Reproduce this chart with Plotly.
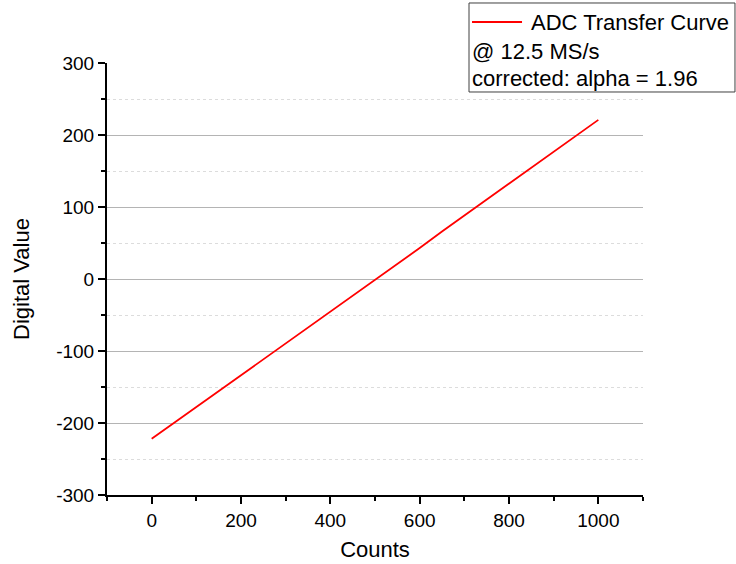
import plotly.graph_objects as go

# Data (approx.)
counts = [0, 50, 100, 150, 200, 250, 300, 350, 400, 450, 500,
          550, 600, 650, 700, 750, 800, 850, 900, 950, 1000]
digital = [-222, -200, -178, -156, -133, -111, -89, -67, -45, -23, -1,
           21, 43, 66, 88, 110, 132, 154, 176, 199, 221]

x_ticks = [0, 200, 400, 600, 800, 1000]
y_ticks = [-300, -200, -100, 0, 100, 200, 300]
y_tick_text = ["-300", "-200", "-100", "0", "100", "200", "300"]
legend_lines = ["ADC Transfer Curve", "@ 12.5 MS/s", "corrected: alpha = 1.96"]

font_family = "Liberation Sans, Arial, sans-serif"

fig = go.Figure()
fig.add_trace(go.Scatter(
    x=counts, y=digital, mode="lines",
    line=dict(color="#ff0000", width=1.8),
    name=legend_lines[0], showlegend=False,
))

fig.update_layout(
    width=736, height=564,
    margin=dict(l=107, r=93, t=63, b=69, autoexpand=False),
    paper_bgcolor="white", plot_bgcolor="white",
    font=dict(family=font_family, size=19, color="black"),
    xaxis=dict(
        range=[-100, 1100], tickvals=x_ticks,
        showline=True, linecolor="black", linewidth=2,
        ticks="outside", ticklen=7, tickwidth=2, tickcolor="black",
        showgrid=False, zeroline=False,
        minor=dict(tickvals=[-100, 100, 300, 500, 700, 900, 1100],
                   ticks="outside", ticklen=4, tickwidth=2, tickcolor="black",
                   showgrid=False),
        title=dict(text="Counts", font=dict(size=22), standoff=12),
        tickfont=dict(size=19),
    ),
    yaxis=dict(
        range=[-300, 300], tickvals=y_ticks, ticktext=y_tick_text,
        showline=True, linecolor="black", linewidth=2,
        ticks="outside", ticklen=7, tickwidth=2, tickcolor="black",
        showgrid=True, gridcolor="#b4b4b4", gridwidth=1, zeroline=False,
        minor=dict(tickvals=[-250, -150, -50, 50, 150, 250],
                   ticks="outside", ticklen=4, tickwidth=2, tickcolor="black",
                   showgrid=True, gridcolor="#dcdcdc", griddash="dot", gridwidth=1),
        title=dict(text="Digital Value", font=dict(size=22), standoff=20),
        tickfont=dict(size=19),
    ),
)

# legend box (frame, line sample, texts)
fig.add_shape(type="rect", xref="paper", yref="paper",
              x0=0.6754, x1=1.1716, y0=0.9329, y1=1.1389,
              line=dict(color="#404040", width=1), fillcolor="rgba(0,0,0,0)")
fig.add_shape(type="line", xref="paper", yref="paper",
              x0=0.681, x1=0.7743, y0=1.0949, y1=1.0949,
              line=dict(color="#ff0000", width=1.8))
fig.add_annotation(xref="paper", yref="paper", x=0.787, y=1.0949,
                   xanchor="left", yanchor="middle", showarrow=False,
                   text=legend_lines[0], font=dict(size=22))
fig.add_annotation(xref="paper", yref="paper", x=0.677, y=1.0255,
                   xanchor="left", yanchor="middle", showarrow=False,
                   text=legend_lines[1], font=dict(size=22))
fig.add_annotation(xref="paper", yref="paper", x=0.677, y=0.9630,
                   xanchor="left", yanchor="middle", showarrow=False,
                   text=legend_lines[2], font=dict(size=22))

fig.write_html("out.html")
